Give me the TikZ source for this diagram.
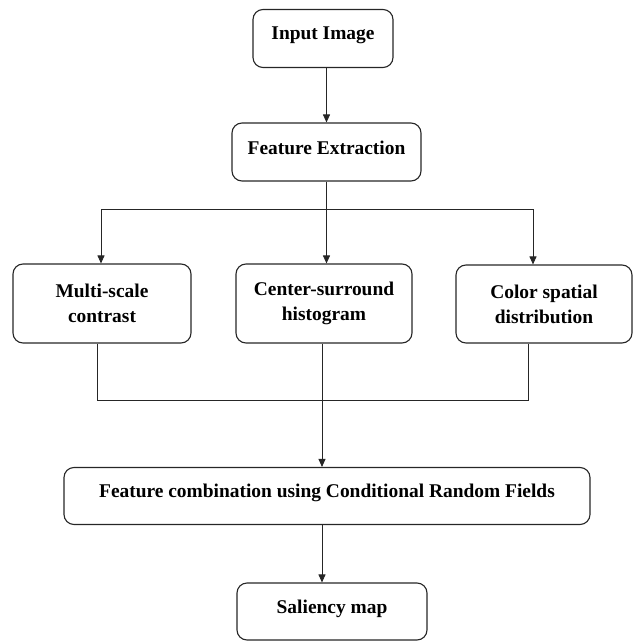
\documentclass[tikz,border=0pt]{standalone}
\usepackage{fontspec}
\setmainfont{Liberation Serif}
\usetikzlibrary{arrows.meta}
\begin{document}
\begin{tikzpicture}[x=1bp,y=-1bp,
  box/.style={draw=black!85, line width=1.1bp, rounded corners=10bp, inner sep=0pt,
    align=center, font=\fontsize{19.5}{25}\selectfont\bfseries},
  oneline/.style={text height=8bp, text depth=5bp},
  conn/.style={draw=black!85, line width=0.9bp},
  arr/.style={conn, -{Triangle[length=8bp,width=7bp]}}]
\useasboundingbox (0,0) rectangle (635,641);
\node[box, oneline, minimum width=140bp, minimum height=58bp] (in) at (323,38.5) {Input Image};
\node[box, minimum width=189bp, minimum height=58bp, text height=9bp, text depth=3bp] (fe) at (326.5,152) {Feature Extraction};
\node[box, minimum width=178bp, minimum height=79bp] (ms) at (102,303.5) {Multi-scale\\contrast};
\node[box, minimum width=176bp, minimum height=79bp] (cs) at (324,303.5) {Center-surround\\histogram};
\node[box, minimum width=176bp, minimum height=78bp] (cd) at (544,304) {Color spatial\\distribution};
\node[box, minimum width=526bp, minimum height=57bp, text height=8bp, text depth=6bp] (fc) at (327,496) {Feature combination using Conditional Random Fields};
\node[box, oneline, minimum width=190bp, minimum height=57bp] (sm) at (332,611.5) {Saliency map};
\coordinate (sL) at (101,209);
\coordinate (sR) at (533,209);
\coordinate (jL) at (97,400);
\coordinate (jR) at (528,400);
\coordinate (jM) at (322,400);
\draw[arr] (fe.north |- in.south) -- (fe.north);
\draw[conn] (sL) -- (sR);
\draw[arr] (fe.south) -- (fe.south |- cs.north);
\draw[arr] (sL) -- (sL |- ms.north);
\draw[arr] (sR) -- (sR |- cd.north);
\draw[conn] (jL |- ms.south) -- (jL) -- (jR) -- (jR |- cd.south);
\draw[arr] (jM |- cs.south) -- (jM |- fc.north);
\draw[arr] (jM |- fc.south) -- (jM |- sm.north);
\end{tikzpicture}
\end{document}
